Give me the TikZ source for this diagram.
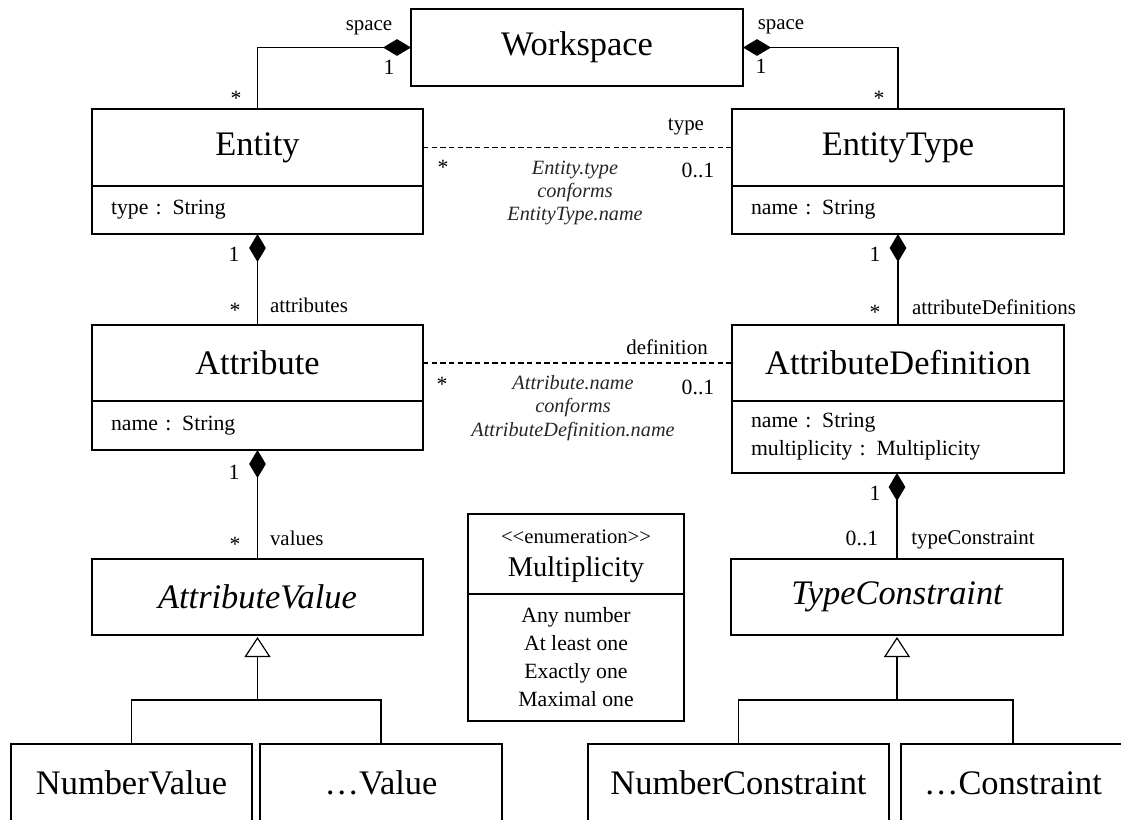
\documentclass[tikz,border=0pt]{standalone}
\usepackage{fontspec}
\setmainfont{Liberation Serif}
\usetikzlibrary{arrows.meta}
\begin{document}
\begin{tikzpicture}[x=0.75pt,y=-0.75pt,
  every node/.style={inner sep=0pt, outer sep=0pt},
  box/.style={draw, line width=1pt, anchor=north west, inner sep=0pt},
  hdr/.style={box, font=\fontsize{25.8}{30}\selectfont},
  ihdr/.style={box, font=\fontsize{25.8}{30}\selectfont\itshape},
  cmp/.style={box, align=left, inner xsep=14.25pt, font=\fontsize{16.3}{21}\selectfont},
  role/.style={font=\fontsize{15.7}{19}\selectfont},
  mul/.style={font=\fontsize{16.3}{19}\selectfont},
  cons/.style={font=\fontsize{15.2}{17.6}\selectfont\itshape, align=center, text=black!85},
  conn/.style={line width=0.9pt},
  comp/.style={conn, -{Diamond[length=21pt,width=12.5pt]}},
  gen/.style={conn, -{Triangle[open, length=15pt, width=19.5pt, fill=white]}, shorten >=1.5pt},
  dep/.style={line width=0.8pt, dash pattern=on 4pt off 2.5pt},
]
\useasboundingbox (0,0) rectangle (1121,819);
\clip (0,0) rectangle (1121,819);

% classes
\node[hdr, minimum width=249pt, minimum height=57.75pt] (ws) at (411,9) {Workspace};

\node[hdr, minimum width=248.25pt, minimum height=57.75pt] (ent) at (92,109) {Entity};
\node[cmp, text width=219.75pt, minimum height=36pt] (entA) at (92,186) {type : String};
\draw[line width=2.2pt] (ent.south west) -- (ent.south east);

\node[hdr, minimum width=249pt, minimum height=57.75pt] (et) at (732,109) {EntityType};
\node[cmp, text width=220.5pt, minimum height=36pt] (etA) at (732,186) {name : String};
\draw[line width=2.2pt] (et.south west) -- (et.south east);

\node[hdr, minimum width=248.25pt, minimum height=57pt] (att) at (92,325) {Attribute};
\node[cmp, text width=219.75pt, minimum height=36.75pt] (attA) at (92,401) {name : String};

\node[hdr, minimum width=249pt, minimum height=57pt] (ad) at (732,325) {AttributeDefinition};
\node[cmp, text width=220.5pt, minimum height=54pt] (adA) at (732,401) {name : String\\multiplicity : Multiplicity};

\node[ihdr, minimum width=248.25pt, minimum height=57pt] (av) at (92,559) {AttributeValue};
\node[ihdr, minimum width=249pt, minimum height=57pt] (tc) at (731,559) {TypeConstraint};

\node[box, minimum width=162pt, minimum height=60pt] (mh) at (468,514) {};
\node[font=\fontsize{15.5}{18}\selectfont] (menum) at (576,537) {<{}<enumeration>{}>};
\node[font=\fontsize{21.4}{25}\selectfont] (mname) at (576,570) {Multiplicity};
\node[box, minimum width=162pt, minimum height=95.25pt, align=center, font=\fontsize{16.3}{21}\selectfont] (mi) at (468,594) {Any number\\At least one\\Exactly one\\Maximal one};

\node[hdr, minimum width=180.75pt, minimum height=58.5pt] (nv) at (11,744) {NumberValue};
\node[hdr, minimum width=181.5pt, minimum height=58.5pt] (ov) at (260,744) {…Value};
\node[hdr, minimum width=225.75pt, minimum height=58.5pt] (nc) at (588,744) {NumberConstraint};
\node[hdr, minimum width=168pt, minimum height=58.5pt] (oc) at (901,744) {…Constraint};

% connectors
\draw[comp] (ent.north) |- (ws.west);
\draw[comp] (et.north) |- (ws.east);
\draw[dep] (ent.east) -- (et.west);
\draw[dep] (att.east) -- (ad.west);
\draw[comp] (att.north) -- (entA.south);
\draw[comp] (ad.north) -- (etA.south);
\draw[comp] (av.north) -- (attA.south);
\draw[comp] (tc.north) -- (tc.north |- adA.south);
\coordinate (avj) at (257.5,700);
\draw[gen] (avj) -- (av.south);
\draw[conn] (nv.north) |- (avj) -| (ov.north);
\coordinate (tcj) at (897,700);
\draw[gen] (tcj) -- (tc.south);
\draw[conn] (nc.north) |- (tcj) -| (oc.north);

% labels
\node[role] (lsp) at (369,28) {space};
\node[mul] (l1) at (389,67) {1};
\node[mul] (lst) at (236,98) {*};
\node[role] (rsp) at (781,27) {space};
\node[mul] (r1) at (761,66) {1};
\node[mul] (rst) at (879,98) {*};

\node[role] (tty) at (686,127) {type};
\node[mul] (tst) at (443,167) {*};
\node[mul] (t01) at (698,170) {0..1};
\node[cons] (c1) at (575,193) {Entity.type\\conforms\\EntityType.name};

\node[mul] (a1) at (234,254) {1};
\node[mul] (ast) at (235,310) {*};
\node[role, anchor=west] (aat) at (270,305) {attributes};
\node[mul] (d1) at (875,254) {1};
\node[mul] (dst) at (875,312) {*};
\node[role, anchor=west] (dad) at (912,307) {attributeDefinitions};

\node[role] (ddf) at (667,347) {definition};
\node[mul] (dfst) at (442,384) {*};
\node[mul] (df01) at (698,387) {0..1};
\node[cons] (c2) at (573,408) {Attribute.name\\conforms\\AttributeDefinition.name};

\node[mul] (v1) at (234,472) {1};
\node[mul] (vst) at (235,544) {*};
\node[role, anchor=west] (vv) at (270,538) {values};
\node[mul] (tc1) at (875,493) {1};
\node[mul] (tc01) at (862,538) {0..1};
\node[role] (tct) at (973,540) {typeConstraint};
\end{tikzpicture}
\end{document}
